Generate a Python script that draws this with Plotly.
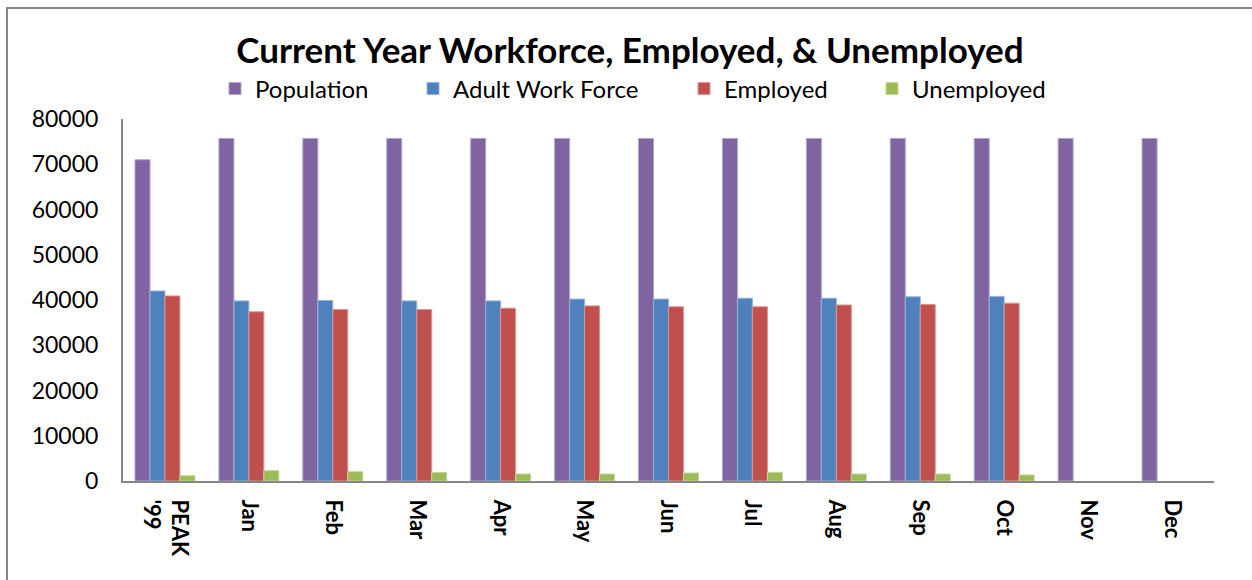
import plotly.graph_objects as go

categories = ["PEAK<br>'99", "Jan", "Feb", "Mar", "Apr", "May", "Jun", "Jul", "Aug", "Sep", "Oct", "Nov", "Dec"]
population = [71000, 75700, 75700, 75700, 75700, 75700, 75700, 75700, 75700, 75700, 75700, 75700, 75700]
work_force = [42000, 39800, 39900, 39800, 39800, 40200, 40200, 40400, 40400, 40700, 40800, None, None]
employed = [40900, 37400, 37900, 37900, 38200, 38700, 38500, 38500, 38900, 39000, 39300, None, None]
unemployed = [1170, 2280, 2060, 1910, 1550, 1550, 1770, 1920, 1550, 1550, 1330, None, None]

series = [
    ("Population", population, "#8064A2", "#B3A2C7", "legend"),
    ("Adult Work Force", work_force, "#4F81BD", "#95B3D7", "legend2"),
    ("Employed", employed, "#C0504D", "#D99694", "legend3"),
    ("Unemployed", unemployed, "#9BBB59", "#C3D69B", "legend4"),
]

fig = go.Figure()
for name, vals, col, edge, lg in series:
    fig.add_trace(go.Bar(
        x=categories, y=vals, name=name, legend=lg, showlegend=True,
        marker=dict(color=col, line=dict(color=edge, width=1)),
    ))

L, R, T, B = 123, 38, 119, 99
W, H = 1252, 580
pw = W - L - R
ph = H - T - B

def px_x(p):
    return (p - L) / pw

def px_y(p):
    return (H - B - p) / ph

leg_font = dict(family="Lato, Carlito, sans-serif", size=24, color="#000000")
common_leg = dict(orientation="h", yanchor="middle", y=px_y(89), xanchor="left",
                  font=leg_font, bgcolor="rgba(0,0,0,0)", borderwidth=0, visible=True)

fig.update_layout(
    width=W, height=H,
    margin=dict(l=L, r=R, t=T, b=B, pad=0),
    paper_bgcolor="white", plot_bgcolor="white",
    showlegend=True,
    barmode="group", bargap=0.286, bargroupgap=0,
    title=dict(text="<b>Current Year Workforce, Employed, &amp; Unemployed</b>",
               x=630 / W, xref="container", xanchor="center",
               y=1 - 51 / H, yref="container", yanchor="middle",
               font=dict(family="Lato, Carlito, sans-serif", size=35, color="#000000")),
    legend=dict(common_leg, x=px_x(215)),
    legend2=dict(common_leg, x=px_x(413)),
    legend3=dict(common_leg, x=px_x(684)),
    legend4=dict(common_leg, x=px_x(872)),
    xaxis=dict(
        tickangle=90, showgrid=False, showline=True, linecolor="#868686", linewidth=2,
        ticks="", tickfont=dict(family="Lato, Carlito, sans-serif", size=22, color="#000000", weight="bold"),
        ticklabelstandoff=12,
    ),
    yaxis=dict(
        range=[0, 80000], dtick=10000, showgrid=False, zeroline=False,
        showline=True, linecolor="#868686", linewidth=2, ticks="",
        tickformat="d",
        tickfont=dict(family="Lato, Carlito, sans-serif", size=23, color="#000000"),
        ticklabelstandoff=18,
    ),
    shapes=[dict(type="rect", xref="paper", yref="paper",
                 x0=px_x(7), x1=px_x(1300), y0=px_y(640), y1=px_y(8),
                 line=dict(color="#868686", width=2), fillcolor="rgba(0,0,0,0)", layer="below")],
)

fig.write_html("out.html")
